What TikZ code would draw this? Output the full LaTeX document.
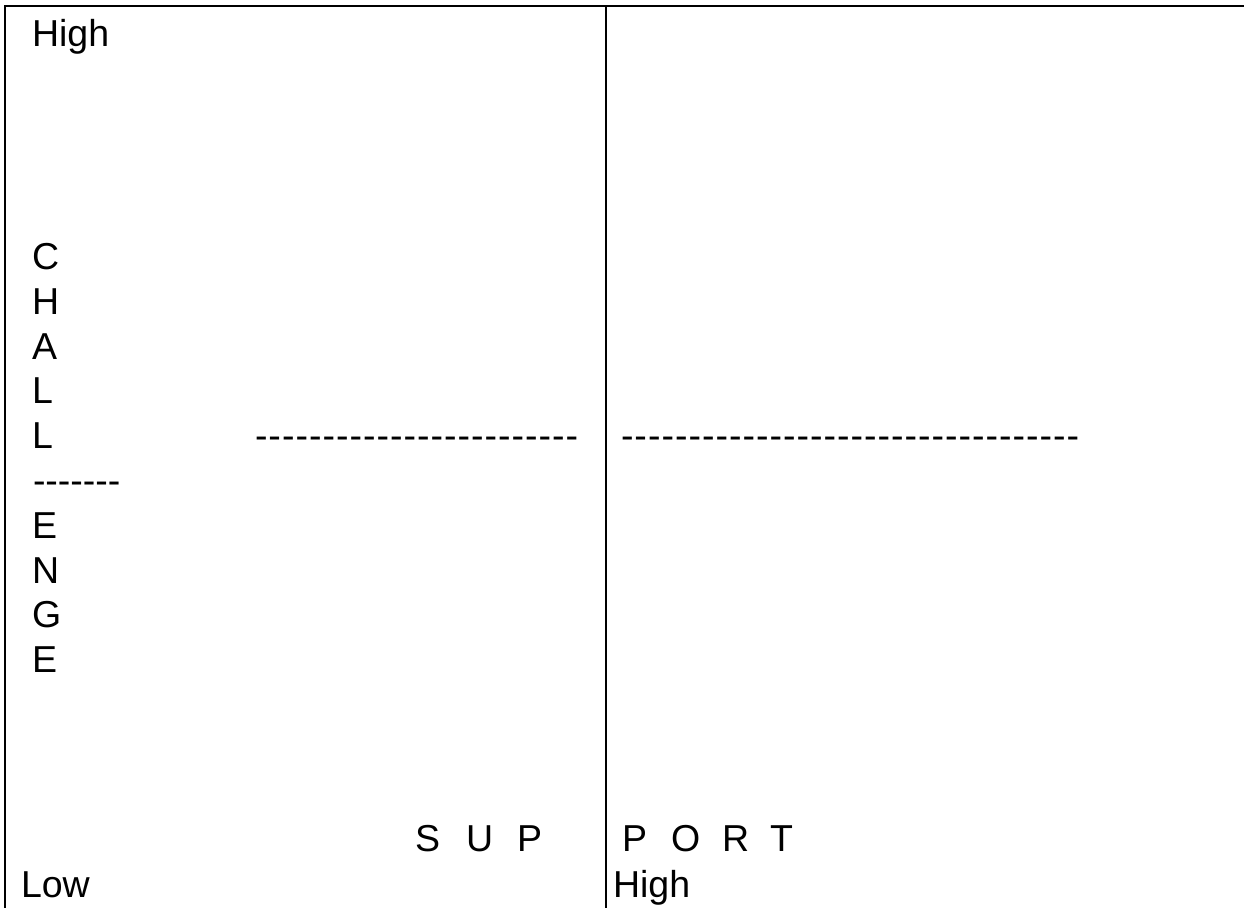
\documentclass[tikz,border=0pt]{standalone}
\usepackage{fontspec}
\setmainfont{Liberation Sans}
\newfontfamily\plainfont{Liberation Sans}
\newfontfamily\dashfont[LetterSpace=2.7]{Liberation Sans}
\begin{document}
\begin{tikzpicture}[x=1pt,y=-1pt,
  frame/.style={line width=2.8pt,line cap=rect},
  txt/.style={anchor=base west,inner sep=0pt,outer sep=0pt,font=\fontsize{37.5}{45}\selectfont},
  plaintxt/.style={anchor=base west,inner sep=0pt,outer sep=0pt,font=\plainfont\fontsize{37.5}{45}\selectfont},
  dashtxt/.style={anchor=base west,inner sep=0pt,outer sep=0pt,font=\dashfont\fontsize{37.5}{45}\selectfont}]
\useasboundingbox (0,0) rectangle (1244,907);
\fill[white] (0,0) rectangle (1244,907);
% frame lines
\coordinate (tl) at (5,6);
\coordinate (bl) at (5,907);
\coordinate (tr) at (1244,6);
\coordinate (mt) at (606,6);
\coordinate (mb) at (606,907);
\draw[frame] (bl) -- (tl) -- (tr);
\draw[frame] (mt) -- (mb);
% top label
\node[txt] (hightop) at (32,47) {High};
% vertical word
\node[txt] (c1) at (32,269) {C};
\node[txt] (c2) at (32,314) {H};
\node[txt] (c3) at (32,359) {A};
\node[txt] (c4) at (32,403) {L};
\node[txt] (c5) at (32,448) {L};
\node[plaintxt] (c6) at (33,493) {-------};
\node[txt] (c7) at (32,538) {E};
\node[txt] (c8) at (32,583) {N};
\node[txt] (c9) at (32,627) {G};
\node[txt] (c10) at (32,672) {E};
% dashed text rows
\node[dashtxt] (dl) at (255,448) {------------------------};
\node[dashtxt] (dr) at (621,448) {----------------------------------};
% SUPPORT
\node[txt] (s1) at (415,851) {S};
\node[txt] (s2) at (466,851) {U};
\node[txt] (s3) at (517,851) {P};
\node[txt] (s4) at (622,851) {P};
\node[txt] (s5) at (671,851) {O};
\node[txt] (s6) at (722,851) {R};
\node[txt] (s7) at (770,851) {T};
% bottom labels
\node[txt] (low) at (21,897) {Low};
\node[txt] (highb) at (613,897) {High};
\end{tikzpicture}
\end{document}
